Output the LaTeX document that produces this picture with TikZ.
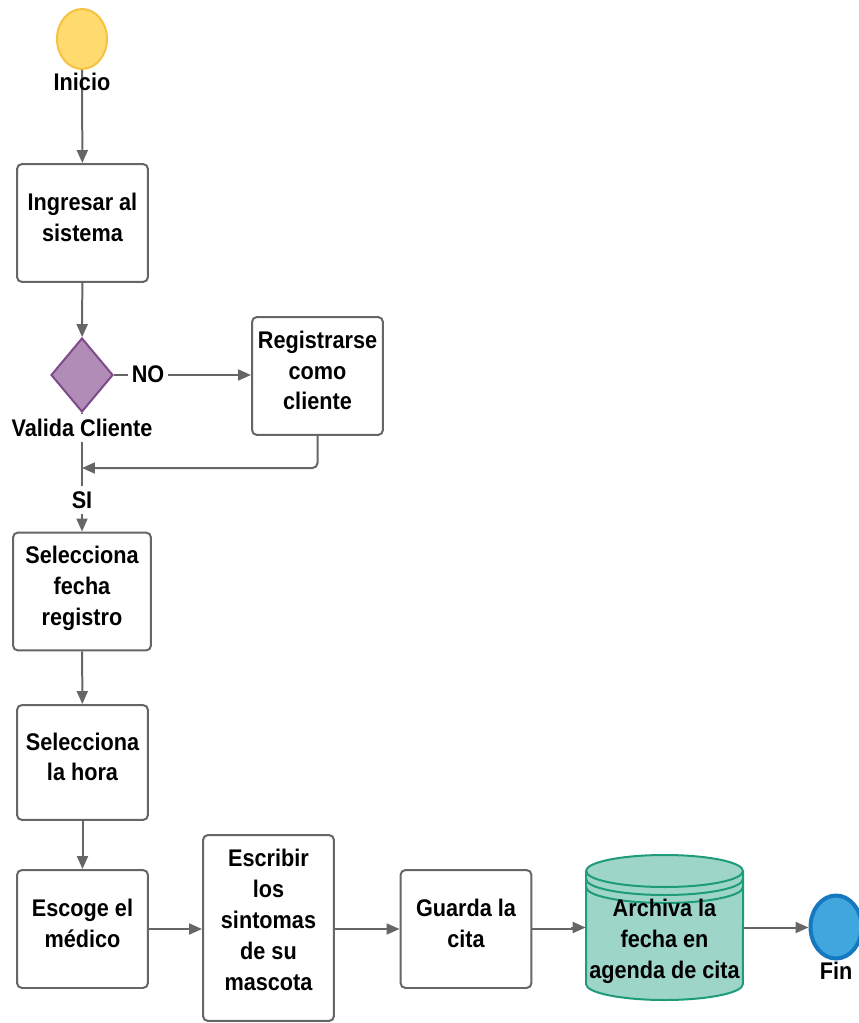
\documentclass[tikz,border=0pt]{standalone}
\usepackage{fontspec}
\setmainfont{Liberation Sans}[FakeStretch=0.9]
\usetikzlibrary{arrows.meta}
\usetikzlibrary{shapes.geometric}

\definecolor{inicioFill}{HTML}{FFDA6E}
\definecolor{inicioLine}{HTML}{F5C242}
\definecolor{linea}{HTML}{666666}
\definecolor{rombFill}{HTML}{B08CB6}
\definecolor{rombLine}{HTML}{7E4A8C}
\definecolor{cilFill}{HTML}{9DD6C9}
\definecolor{cilLine}{HTML}{1E9B78}
\definecolor{finFill}{HTML}{3FA7DE}
\definecolor{finLine}{HTML}{1679BF}

\newcommand{\flujofont}{\fontsize{13.7}{17.6}\selectfont\bfseries}

\tikzset{
	paso/.style={draw=linea, line width=0.04cm, rounded corners=0.1cm, fill=white,
		align=center, minimum width=2.62cm, minimum height=2.36cm, inner sep=0pt,
		text depth=6.5pt, font=\flujofont},
	flecha/.style={draw=linea, line width=0.04cm, -{Triangle[length=0.26cm,width=0.22cm]}},
	etiqueta/.style={font=\flujofont, inner sep=2pt, align=center}
}

\begin{document}
\begin{tikzpicture}[x=0.02cm,y=-0.02cm]
			\useasboundingbox (0,0) rectangle (858,1023);
			% inicio y pasos
			\node[ellipse, draw=inicioLine, fill=inicioFill, line width=0.04cm,
				minimum width=1.0cm, minimum height=1.2cm, inner sep=0pt] (inicio) at (82,39) {};
			\node[paso] (ingresar) at (82.5,223) {Ingresar al\\sistema};
			\node[diamond, aspect=0.84, draw=rombLine, fill=rombFill, line width=0.04cm,
				minimum width=1.24cm, minimum height=1.48cm, inner sep=0pt] (valida) at (82,375) {};
			\node[paso] (registrarse) at (317.5,376) {Registrarse\\como\\cliente};
			\coordinate (union) at (82,468);
			\node[paso, minimum width=2.76cm] (fecha) at (82,591.5) {Selecciona\\fecha\\registro};
			\node[paso, minimum height=2.3cm] (hora) at (82.5,762.5) {Selecciona\\la hora};
			\node[paso] (medico) at (82.5,929) {Escoge el\\m\'edico};
			\node[paso, minimum height=3.72cm, text depth=9.5pt] (sintomas) at (268.5,928) {Escribir\\los\\sintomas\\de su\\mascota};
			\node[paso] (guarda) at (466,929) {Guarda la\\cita};
			% agenda (cilindro)
			\draw[cilLine, fill=cilFill, line width=0.04cm] (586,871) -- (586,984)
				arc[start angle=180, end angle=360, x radius=1.57cm, y radius=0.32cm]
				-- (743,871);
			\draw[cilLine, fill=cilFill, line width=0.04cm] (664.5,871) ellipse [x radius=1.57cm, y radius=0.32cm];
			\draw[cilLine, line width=0.04cm] (586,879) arc[start angle=180, end angle=360, x radius=1.57cm, y radius=0.32cm];
			\draw[cilLine, line width=0.04cm] (586,887) arc[start angle=180, end angle=360, x radius=1.57cm, y radius=0.32cm];
			\node[inner sep=0pt, minimum width=3.14cm, minimum height=2.9cm] (archiva) at (664.5,927.5) {};
			\node[etiqueta] (archivaTxt) at (664.5,941) {Archiva la\\fecha en\\agenda de cita};
			\node[ellipse, draw=finLine, fill=finFill, line width=0.08cm,
				minimum width=1.02cm, minimum height=1.26cm, inner sep=0pt] (fin) at (836,927) {};
			% conectores
			\draw[flecha] (inicio) -- (ingresar);
			\draw[flecha] (ingresar) -- (valida);
			\draw[flecha] (valida) -- (registrarse.west |- valida);
			\draw[flecha, rounded corners=0.1cm] (registrarse) |- (union);
			\draw[flecha] (valida) -- (fecha);
			\draw[flecha] (fecha) -- (hora);
			\draw[flecha] (hora) -- (medico);
			\draw[flecha] (medico.east) -- (medico.east -| sintomas.west);
			\draw[flecha] (sintomas.east |- guarda.west) -- (guarda.west);
			\draw[flecha] (guarda.east) -- ++(40,0) |- (archiva.west);
			\draw[flecha] (archiva.east) -- (archiva.east -| fin.west);
			% etiquetas
			\node[etiqueta] (inicioTxt) at (82,82) {Inicio};
			\node[etiqueta, fill=white, inner sep=3pt] (validaTxt) at (82,428) {Valida Cliente};
			\node[etiqueta, fill=white] (no) at (148,374) {NO};
			\node[etiqueta, fill=white, inner sep=3pt] (si) at (82,500) {SI};
			\node[etiqueta] (finTxt) at (836,971) {Fin};
		\end{tikzpicture}
\end{document}
